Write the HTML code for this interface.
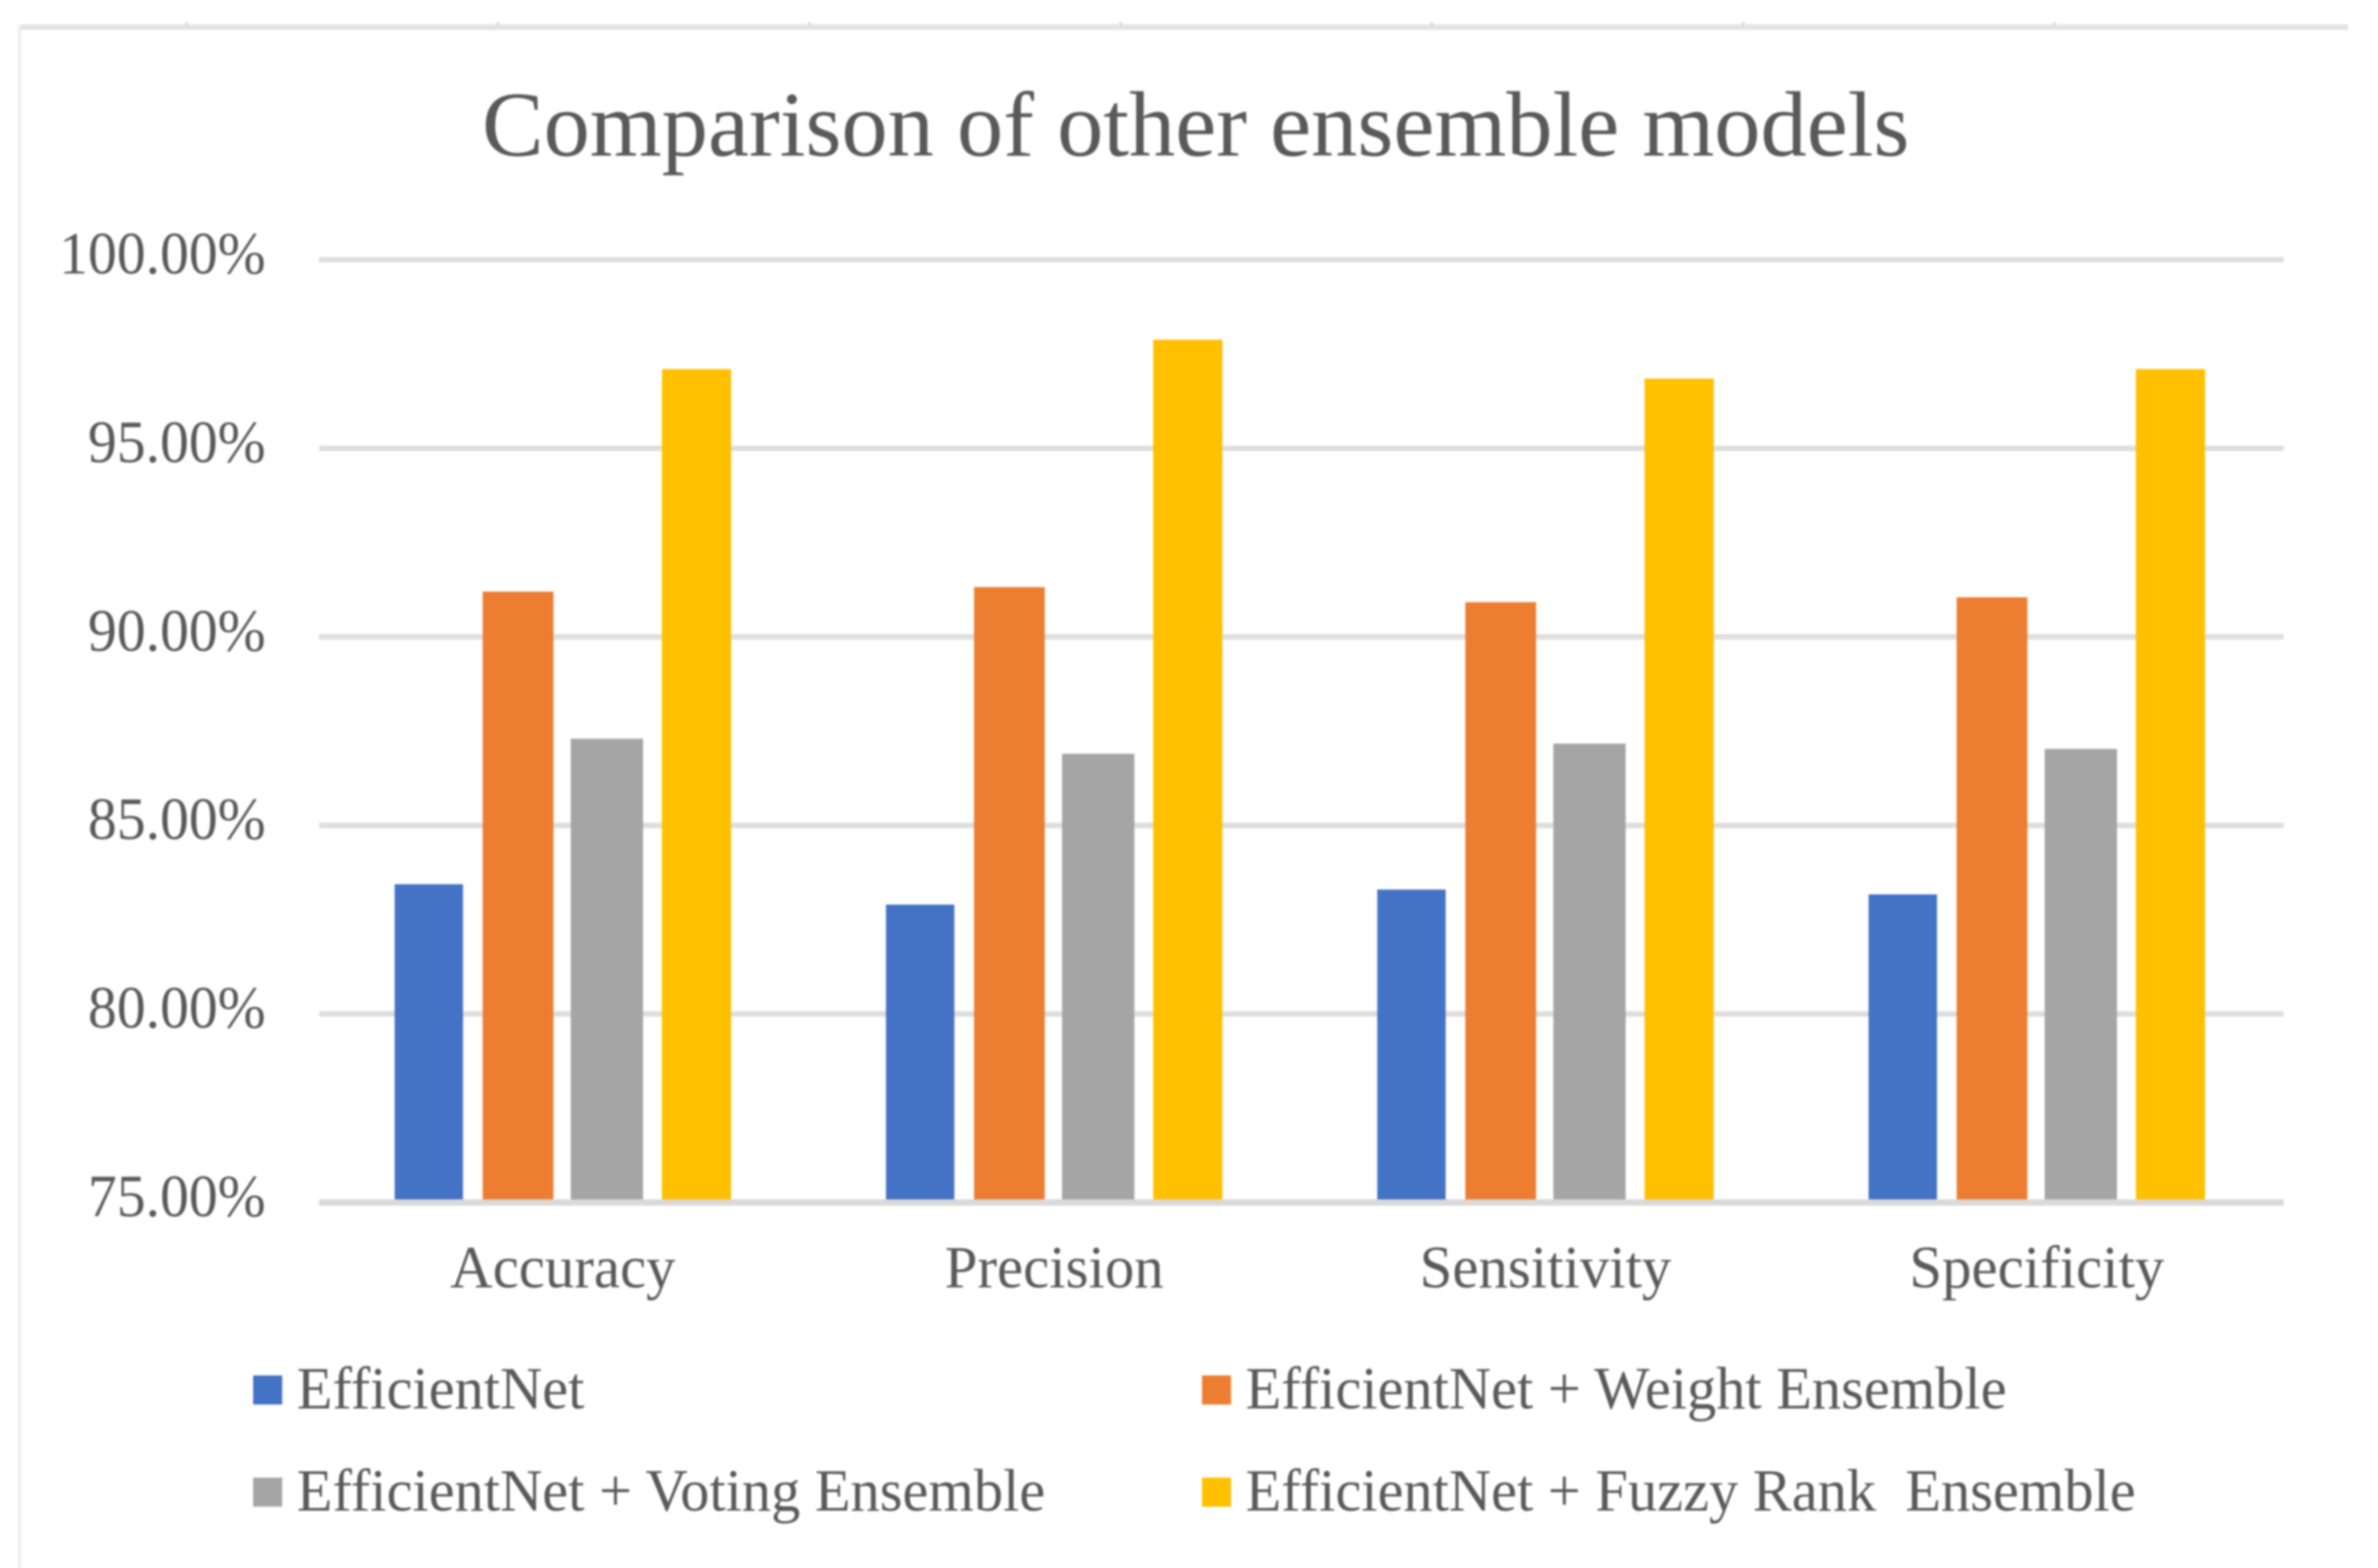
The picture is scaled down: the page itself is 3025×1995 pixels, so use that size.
<!DOCTYPE html>
<html lang="en">
<head>
<meta charset="utf-8">
<title>Comparison of other ensemble models</title>
<style>
  html, body { margin: 0; padding: 0; background: #fff; }
  body { width: 3025px; height: 1995px; overflow: hidden; }
  svg { display: block; filter: blur(1.3px); }
  text { font-family: "Liberation Serif", serif; fill: #595959; white-space: pre; font-variant-ligatures: none; }
</style>
</head>
<body>
<svg id="chart" xmlns="http://www.w3.org/2000/svg" width="3025" height="1995" viewBox="0 0 3025 1995">
  <rect x="0" y="0" width="3025" height="1995" fill="#ffffff"/>
  <rect x="24" y="31" width="2963" height="7" fill="#e3e3e3"/>
  <rect x="23" y="31" width="4" height="1964" fill="#eeeeee"/>
  <g id="frame-ticks" fill="#d8d8d8"></g>
  <text x="1521" y="198" text-anchor="middle" font-size="117.6">Comparison of other ensemble models</text>
  <g id="grid"></g>
  <g id="y-axis"></g>
  <g id="bars"></g>
  <rect x="406" y="1526" width="2499" height="8" fill="#d9d9d9"/>
  <g id="x-axis"></g>
  <g id="legend"></g>
</svg>
<script>
const categories = ["Accuracy", "Precision", "Sensitivity", "Specificity"];
const seriesNames = ["EfficientNet", "EfficientNet + Weight Ensemble", "EfficientNet + Voting Ensemble", "EfficientNet + Fuzzy Rank  Ensemble"];
const efficientNet = [83.44, 82.90, 83.30, 83.17];
const weightEnsemble = [91.20, 91.32, 90.92, 91.05];
const votingEnsemble = [87.30, 86.90, 87.17, 87.03];
const fuzzyRankEnsemble = [97.10, 97.88, 96.85, 97.10];
const yTicks = [100, 95, 90, 85, 80, 75];
const seriesColors = ["#4472c4", "#ed7d31", "#a5a5a5", "#ffc000"];
const seriesValues = [efficientNet, weightEnsemble, votingEnsemble, fuzzyRankEnsemble];

const NS = "http://www.w3.org/2000/svg";
const yMin = 75, yMax = 100, plotTop = 330.5, plotBottom = 1530;
const plotLeft = 406, plotRight = 2905;
const groupStart = 502, groupStep = 625;
const slotOffset = [0, 112, 224, 340];
const slotWidth = [87, 90, 92, 88];

function y(v) { return plotBottom - (v - yMin) / (yMax - yMin) * (plotBottom - plotTop); }
function groupX(i) { return groupStart + i * groupStep; }
function barX(i, s) { return groupX(i) + slotOffset[s]; }
function make(tag, attrs, parent, content) {
  const el = document.createElementNS(NS, tag);
  for (const k in attrs) el.setAttribute(k, attrs[k]);
  if (content !== undefined) el.textContent = content;
  parent.appendChild(el);
  return el;
}

const frameTicks = document.getElementById("frame-ticks");
for (let i = 0; i < 7; i++) {
  const t = make("rect", { x: 236 + i * 396, y: 28, width: 3, height: 5 }, frameTicks);
  
  
}

const gridG = document.getElementById("grid");
const yAxisG = document.getElementById("y-axis");
yTicks.forEach(function (v) {
  if (v !== yMin) {
    const line = make("rect", { x: plotLeft, y: y(v) - 3.5, width: plotRight - plotLeft, height: 7, fill: "#dedede" }, gridG);
    
    
  }
  const g = make("g", { transform: "translate(338," + (y(v) + 17.5) + ") scale(0.965,1)" }, yAxisG);
  const label = make("text", { x: 0, y: 0, "text-anchor": "end", "font-size": 76 }, g, v.toFixed(2) + "%");
  
  
});

const barsG = document.getElementById("bars");
seriesValues.forEach(function (values, s) {
  values.forEach(function (v, i) {
    const bar = make("rect", { x: barX(i, s), y: y(v), width: slotWidth[s], height: y(yMin) - y(v), fill: seriesColors[s] }, barsG);
    
    
  });
});

const xAxisG = document.getElementById("x-axis");
categories.forEach(function (c, i) {
  const cx = groupX(i) + 214;
  const g = make("g", { transform: "translate(" + cx + ",1638) scale(0.985,1)" }, xAxisG);
  const label = make("text", { x: 0, y: 0, "text-anchor": "middle", "font-size": 76 }, g, c);
  
  
});

const legendG = document.getElementById("legend");
const legendColX = [322, 1529];
const legendRowY = [1750, 1880];
const legendSeriesOrder = [[0, 1], [2, 3]];
legendSeriesOrder.forEach(function (row, r) {
  row.forEach(function (s, c) {
    const swatch = make("rect", { x: legendColX[c], y: legendRowY[r], width: 37, height: 37, fill: seriesColors[s] }, legendG);
    
    
    const g = make("g", { transform: "translate(" + (legendColX[c] + 55.5) + "," + (legendRowY[r] + 42) + ") scale(0.978,1)" }, legendG);
    const label = make("text", { x: 0, y: 0, "font-size": 76 }, g, seriesNames[s]);
    
    
  });
});
</script>
</body>
</html>
